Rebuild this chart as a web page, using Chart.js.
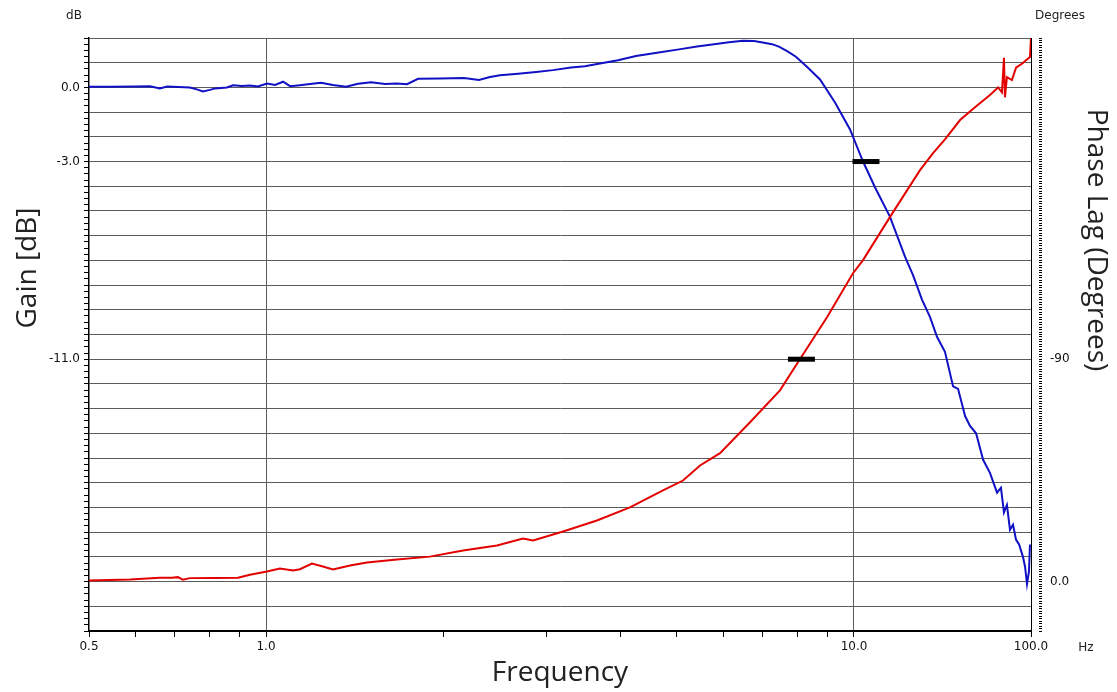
<!DOCTYPE html>
<html>
<head>
<meta charset="utf-8">
<script src="https://cdn.jsdelivr.net/npm/chart.js@4.4.1/dist/chart.umd.min.js"></script>
<style>
  html, body { margin: 0; padding: 0; background: #fff; }
  #chart { display: block; }
</style>
</head>
<body>
<canvas id="chart" width="1117" height="692"></canvas>
<script>
// Gain trace (blue, left axis)
const gainFreq = [0.5, 0.543, 0.599, 0.635, 0.66, 0.679, 0.742, 0.763, 0.781, 0.803, 0.819, 0.858, 0.879, 0.91, 0.939, 0.969,
  1.004, 1.036, 1.069, 1.099, 1.142, 1.188, 1.24, 1.3, 1.368, 1.434, 1.509, 1.594, 1.67, 1.737, 1.814, 1.976,
  2.172, 2.302, 2.404, 2.5, 2.683, 2.88, 3.076, 3.302, 3.487, 3.698, 3.969, 4.258, 4.624, 5.04, 5.408, 5.781,
  6.129, 6.475, 6.761, 7.031, 7.255, 7.454, 7.722, 7.966, 8.316, 8.754, 9.284, 9.845, 10.36, 10.86, 11.51, 12.21,
  12.6, 13.05, 13.47, 13.84, 14.28, 14.74, 15.03, 15.45, 15.75, 16.13, 16.58, 17.03, 17.51, 17.78, 17.99, 18.2,
  18.42, 18.64, 18.86, 19.09, 19.38, 19.54, 19.69, 19.84, 19.92];
const gainDb = [0.03, 0.03, 0.04, 0.05, -0.04, 0.04, 0.0, -0.08, -0.16, -0.1, -0.04, 0.0, 0.09, 0.06, 0.08, 0.04,
  0.16, 0.1, 0.23, 0.05, 0.09, 0.14, 0.19, 0.1, 0.03, 0.15, 0.21, 0.14, 0.16, 0.13, 0.35, 0.36,
  0.38, 0.3, 0.42, 0.49, 0.55, 0.62, 0.7, 0.81, 0.86, 0.97, 1.1, 1.27, 1.4, 1.54, 1.66, 1.75,
  1.83, 1.89, 1.88, 1.81, 1.75, 1.65, 1.45, 1.24, 0.84, 0.32, -0.61, -1.7, -3.0, -4.05, -5.23, -6.85,
  -7.6, -8.59, -9.3, -10.09, -10.7, -12.1, -12.2, -13.3, -13.7, -14.0, -15.07, -15.6, -16.4, -16.2, -17.2, -16.9,
  -17.9, -17.7, -18.3, -18.5, -19.0, -19.4, -20.1, -19.6, -18.5];

// Phase trace (red, right axis)
const phaseFreq = [0.5, 0.587, 0.66, 0.692, 0.708, 0.722, 0.742, 0.819, 0.896, 0.939, 1.004, 1.056, 1.112, 1.142,
  1.197, 1.245, 1.3, 1.39, 1.485, 1.67, 1.9, 2.163, 2.471, 2.736, 2.846, 3.201, 3.654, 4.159, 4.733, 5.119,
  5.472, 5.918, 6.656, 7.483, 8.091, 8.997, 9.961, 10.36, 11.51, 12.95, 13.63, 14.28, 15.15, 16.06, 17.03,
  17.58, 17.85, 17.99, 18.06, 18.2, 18.56, 18.86, 19.38, 19.61, 19.92, 20.0];
const phaseDeg = [-0.4, -0.8, -1.6, -1.6, -1.8, -0.8, -1.4, -1.5, -1.6, -2.8, -4.05, -5.3, -4.5, -5.0,
  -7.3, -6.2, -4.9, -6.5, -7.7, -8.9, -10.1, -12.6, -14.6, -17.4, -16.6, -20.3, -24.7, -30.0, -36.9, -40.9,
  -47.0, -52.0, -64.5, -77.4, -90.0, -107.0, -124.8, -130.1, -147.5, -166.5, -173.4, -179.0, -186.8, -192.0, -196.9,
  -200.0, -198.0, -212.0, -196.0, -204.2, -203.0, -208.0, -209.9, -211.0, -212.3, -220.0];

// Black bar markers: -3 dB point on the gain, -90 deg point on the phase
const markerGainFreq = [10.48];
const markerGainDb = [-3];
const markerPhaseFreq = [8.14];
const markerPhaseDeg = [-90];

// Axis ticks and labels
const xTickValues = [0.5, 0.6, 0.7, 0.8, 0.9, 1, 2, 3, 4, 5, 6, 7, 8, 9, 10, 20];
const xLabelValues = [0.5, 1, 10, 20];
const xLabelText = ['0.5', '1.0', '10.0', '100.0'];
const xGridValues = [1, 10];
const gainLabelValues = [0, -3, -11];
const gainLabelText = ['0.0', '-3.0', '-11.0'];
const phaseLabelValues = [-90, 0];
const phaseLabelText = ['-90', '0.0'];

const gridColor = '#5c5c5c';
const clear = 'rgba(0,0,0,0)';

function toPoints(xs, ys) {
  return xs.map((x, i) => ({ x: x, y: ys[i] }));
}

function labelFor(values, texts) {
  return v => {
    const i = values.indexOf(v);
    return i < 0 ? '' : texts[i];
  };
}

// minor tick lists (0.25 dB and 1 degree steps)
const gainTicks = [];
for (let k = 0; k <= 96; k++) gainTicks.push(-22 + k * 0.25);
const phaseTicks = [];
for (let k = -220; k <= 20; k++) phaseTicks.push(k);

// free text around the plot (corner units and the two side titles)
const sideText = {
  id: 'sideText',
  afterDraw(chart) {
    const ctx = chart.ctx;
    ctx.save();
    ctx.fillStyle = '#222';
    ctx.textAlign = 'center';
    ctx.textBaseline = 'middle';
    ctx.font = '12px "DejaVu Sans"';
    ctx.fillText('dB', 74, 16);
    ctx.fillText('Degrees', 1060, 16);
    ctx.fillText('Hz', 1086, 648);

    ctx.font = '28px "Open Sans"';
    ctx.save();
    ctx.translate(28, 268);
    ctx.rotate(-Math.PI / 2);
    ctx.fillText('Gain [dB]', 0, 0);
    ctx.restore();

    ctx.save();
    ctx.translate(1096, 240);
    ctx.rotate(Math.PI / 2);
    ctx.fillText('Phase Lag (Degrees)', 0, 0);
    ctx.restore();
    ctx.restore();
  }
};

Chart.defaults.font.family = '"DejaVu Sans", sans-serif';
Chart.defaults.font.size = 12;
Chart.defaults.color = '#111';

new Chart(document.getElementById('chart'), {
  type: 'line',
  data: {
    datasets: [
      {
        label: '-3 dB',
        data: toPoints(markerGainFreq, markerGainDb),
        yAxisID: 'yGain',
        showLine: false,
        pointStyle: 'line',
        pointRadius: 13.5,
        pointBorderWidth: 5,
        borderColor: '#000',
        backgroundColor: '#000'
      },
      {
        label: '-90 deg',
        data: toPoints(markerPhaseFreq, markerPhaseDeg),
        yAxisID: 'yPhase',
        showLine: false,
        pointStyle: 'line',
        pointRadius: 13.5,
        pointBorderWidth: 5,
        borderColor: '#000',
        backgroundColor: '#000'
      },
      {
        label: 'Phase',
        data: toPoints(phaseFreq, phaseDeg),
        yAxisID: 'yPhase',
        borderColor: '#e30000',
        borderWidth: 2,
        pointRadius: 0,
        tension: 0
      },
      {
        label: 'Gain',
        data: toPoints(gainFreq, gainDb),
        yAxisID: 'yGain',
        borderColor: '#1010c4',
        borderWidth: 2,
        pointRadius: 0,
        tension: 0
      }
    ]
  },
  options: {
    responsive: false,
    animation: false,
    devicePixelRatio: 1,
    layout: { padding: { top: 38, left: 0, right: 0, bottom: 0 } },
    plugins: {
      legend: { display: false },
      tooltip: { enabled: false }
    },
    scales: {
      x: {
        type: 'logarithmic',
        position: 'bottom',
        min: 0.5,
        max: 20,
        afterBuildTicks: s => { s.ticks = xTickValues.map(v => ({ value: v })); },
        afterFit: s => { s.height = 61; },
        border: { color: '#000', width: 2 },
        grid: {
          color: c => (c.tick && xGridValues.includes(c.tick.value)) ? gridColor : clear,
          tickColor: '#000',
          tickLength: 6,
          lineWidth: 1
        },
        ticks: {
          autoSkip: false,
          maxRotation: 0,
          padding: 3,
          callback: labelFor(xLabelValues, xLabelText)
        },
        title: {
          display: true,
          text: 'Frequency',
          color: '#222',
          font: { family: '"Open Sans"', size: 28 },
          padding: { top: 0, bottom: 2 }
        }
      },
      yGain: {
        type: 'linear',
        position: 'left',
        min: -22,
        max: 2,
        afterBuildTicks: s => { s.ticks = gainTicks.map(v => ({ value: v })); },
        afterFit: s => { s.width = 89; },
        border: { color: '#000', width: 1.5 },
        grid: {
          color: c => (c.tick && Number.isInteger(c.tick.value)) ? gridColor : clear,
          tickColor: '#000',
          tickLength: 5,
          lineWidth: 1
        },
        ticks: {
          autoSkip: false,
          padding: 4,
          callback: labelFor(gainLabelValues, gainLabelText)
        }
      },
      yPhase: {
        type: 'linear',
        position: 'right',
        min: -220,
        max: 20,
        reverse: true,
        afterBuildTicks: s => { s.ticks = phaseTicks.map(v => ({ value: v })); },
        afterFit: s => { s.width = 86; },
        border: { color: '#000', width: 1 },
        grid: {
          drawOnChartArea: false,
          tickColor: '#000',
          tickLength: 11,
          tickWidth: 1,
          tickBorderDash: [0, 7, 4, 20]
        },
        ticks: {
          autoSkip: false,
          padding: 8,
          callback: labelFor(phaseLabelValues, phaseLabelText)
        }
      }
    }
  },
  plugins: [sideText]
});
</script>
</body>
</html>
